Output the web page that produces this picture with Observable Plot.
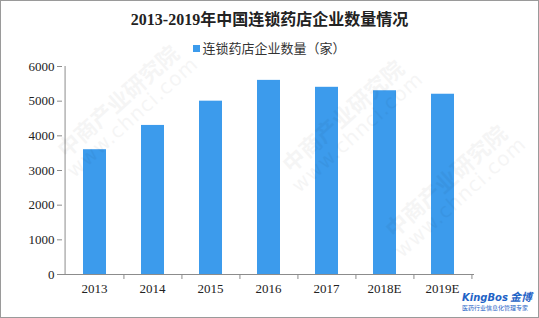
<!DOCTYPE html>
<html>
<head>
<meta charset="utf-8">
<script src="https://cdn.jsdelivr.net/npm/d3@7"></script>
<script src="https://cdn.jsdelivr.net/npm/@observablehq/plot@0.6"></script>
<style>
  html, body { margin: 0; padding: 0; background: #fff; }
  #page { position: relative; width: 539px; height: 318px; overflow: hidden; background: #fff;
          font-family: "Liberation Serif", "Noto Sans CJK SC", serif; color: #222; }
  #frame { position: absolute; left: 0; top: 0; width: 539px; height: 318px; box-sizing: border-box;
           border: 1px solid #9a9a9a; pointer-events: none; z-index: 5; }
  #title { position: absolute; left: 0; width: 539px; top: 9px; text-align: center;
           font-size: 16px; font-weight: bold; line-height: 22px; }
  #legend { position: absolute; left: 0; width: 539px; top: 39px; text-align: center;
            font-family: "Noto Sans CJK SC", sans-serif; font-size: 13px; line-height: 18px; color: #333; }
  #legend .sw { display: inline-block; width: 7px; height: 7px; margin-right: 2px; vertical-align: 1px; }
  #chart { position: absolute; left: 0; top: 56px; }
  .wm { position: absolute; color: #000; opacity: 0.035; font-family: "Noto Sans CJK SC", sans-serif;
        transform: rotate(-42deg); transform-origin: center; white-space: nowrap; z-index: 3;
        pointer-events: none; line-height: 1.1; text-align: center; }
  .wm .cn { font-size: 22px; font-weight: bold; }
  .wm .url { font-size: 20px; font-family: "DejaVu Sans", sans-serif; letter-spacing: 1px; }
  #brand { position: absolute; left: 462px; top: 287px; z-index: 4; color: #1f63c6; }
  #brand .name { font-family: "DejaVu Sans", sans-serif; font-size: 10px; font-weight: bold; font-style: italic; }
  #brand .cn { font-family: "Noto Sans CJK SC", sans-serif; font-size: 11px; font-weight: bold; font-style: italic; margin-left: 2px; }
  #brand .sub { font-family: "Noto Sans CJK SC", sans-serif; font-size: 6px; line-height: 8px; margin-top: -1px; }
</style>
</head>
<body>
<div id="page">
  <div id="title"></div>
  <div id="legend"></div>
  <div id="chart"></div>
  <div class="wm" style="left:40px; top:85px;"><div class="cn">中商产业研究院</div><div class="url">www.chnci.com</div></div>
  <div class="wm" style="left:265px; top:100px;"><div class="cn">中商产业研究院</div><div class="url">www.chnci.com</div></div>
  <div class="wm" style="left:368px; top:165px;"><div class="cn">中商产业研究院</div><div class="url">www.chnci.com</div></div>
  <div id="brand"><div><span class="name">KingBos</span><span class="cn">金博</span></div><div class="sub">医药行业信息化管理专家</div></div>
  <div id="frame"></div>
</div>
<script>
// Chain drugstore enterprises in China, 2013–2019 (E = estimate)
const titleText = "2013-2019年中国连锁药店企业数量情况";
const seriesName = "连锁药店企业数量（家）";
const years = ["2013", "2014", "2015", "2016", "2017", "2018E", "2019E"];
const counts = [3600, 4300, 5000, 5600, 5400, 5300, 5200];
const yTicks = [0, 1000, 2000, 3000, 4000, 5000, 6000];

const barColor = "#3c9bec";
const axisColor = "#8c8c8c";

document.getElementById("title").textContent = titleText;
document.getElementById("legend").innerHTML =
  `<span class="sw" style="background:${barColor}"></span>${seriesName}`;

const data = years.map((year, i) => ({year, count: counts[i]}));

const width = 539, height = 262;
const marginLeft = 62, marginRight = 65, marginTop = 10, marginBottom = 44;
const step = (width - marginLeft - marginRight) / years.length;

const chart = Plot.plot({
  width, height, marginLeft, marginRight, marginTop, marginBottom,
  style: {fontFamily: "'Liberation Serif', serif", fontSize: "13px", color: "#222", background: "transparent"},
  x: {type: "band", domain: years, paddingInner: 0, paddingOuter: 0},
  y: {domain: [0, 6000]},
  marks: [
    Plot.barY(data, {x: "year", y: "count", fill: barColor, insetLeft: 18, insetRight: 17}),
    // vertical axis line along the left edge of the first band
    Plot.ruleX([years[0]], {y1: 0, y2: 6000, dx: -step / 2, stroke: axisColor}),
    // horizontal baseline
    Plot.ruleY([0], {stroke: axisColor}),
    Plot.axisY({ticks: yTicks, tickFormat: d => String(d), tickSize: 5, tickPadding: 3,
                stroke: axisColor, label: null, fontSize: 13, fill: "#222"}),
    // category separators hanging below the baseline at the right edge of each band
    Plot.ruleX(years, {x: d => d, y1: 0, y2: 0, insetBottom: -5, dx: step / 2, stroke: axisColor}),
    Plot.axisX({tickSize: 0, tickPadding: 9, label: null, fontSize: 13, fill: "#222"})
  ]
});
document.getElementById("chart").appendChild(chart);
</script>
</body>
</html>
